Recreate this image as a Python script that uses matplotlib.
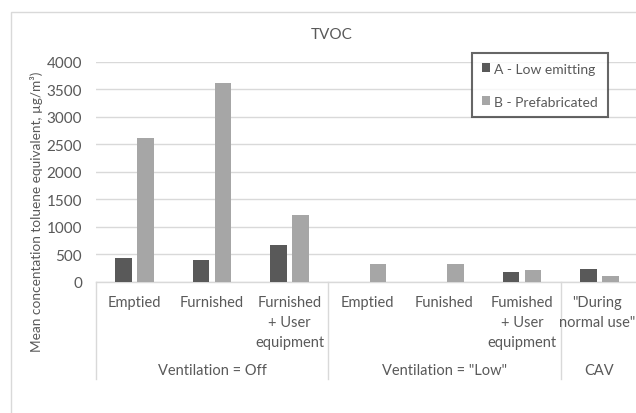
import matplotlib
matplotlib.use("Agg")
import matplotlib.pyplot as plt
import matplotlib.patches as mpatches
import numpy as np

plt.rcParams['font.family'] = ['Lato', 'DejaVu Sans']

categories = ["Emptied", "Furnished", "Furnished\n+ User\nequipment",
              "Emptied", "Funished", "Fumished\n+ User\nequipment",
              "\"During\nnormal use\""]
groups = ["Ventilation = Off", "Ventilation = \"Low\"", "CAV"]
group_sizes = [3, 3, 1]
series_names = ["A - Low emitting", "B - Prefabricated"]
series_a = [443, 395, 680, 0, 0, 182, 236]
series_b = [2615, 3608, 1220, 322, 334, 218, 104]
y_ticks = [0, 500, 1000, 1500, 2000, 2500, 3000, 3500, 4000]

W, H = 636, 414
fig = plt.figure(figsize=(W / 100, H / 100), dpi=100)
txt = '#595959'
grid = '#D9D9D9'

# chart border
fig.patches.append(mpatches.Rectangle((10.5 / W, -0.1), 2, 1 - 12.5 / H + 0.1,
                                      transform=fig.transFigure, fill=False,
                                      edgecolor=grid, linewidth=1.0))

left, right, top, bottom = 96, 638, 62.7, 283
ax = fig.add_axes([left / W, 1 - bottom / H, (right - left) / W, (bottom - top) / H])
x = np.arange(len(categories))
bw = 0.213
off = 0.142
ax.bar(x - off, series_a, bw, color='#595959', label=series_names[0], zorder=3)
ax.bar(x + off, series_b, bw, color='#A6A6A6', label=series_names[1], zorder=3)
ax.set_xlim(-0.5, len(categories) - 0.5)
ax.set_ylim(0, 4000)
ax.set_yticks(y_ticks)
ax.set_yticklabels([str(v) for v in y_ticks], color=txt, fontsize=11)
ax.tick_params(axis='y', length=0, pad=10)
ax.set_xticks([])
ax.yaxis.grid(True, color=grid, linewidth=1.0, zorder=0)
for s in ['top', 'right', 'left']:
    ax.spines[s].set_visible(False)
ax.spines['bottom'].set_color(grid)
ax.spines['bottom'].set_linewidth(1.0)
ax.set_facecolor('none')

ah = bottom - top
tr = ax.get_xaxis_transform()
for i, c in enumerate(categories):
    xi = i - 0.03 if i == len(categories) - 1 else i
    ax.text(xi, -13 / ah, c, transform=tr, ha='center', va='top', color=txt,
            fontsize=10.5, linespacing=1.55, clip_on=False)
start = 0
for g, n in zip(groups, group_sizes):
    ax.plot([start - 0.5, start - 0.5], [0, -97 / ah], transform=tr, color=grid,
            linewidth=1.0, clip_on=False)
    ax.text(start + (n - 1) / 2, -87.7 / ah, g, transform=tr, ha='center', va='center',
            color=txt, fontsize=10.5, clip_on=False)
    start += n

fig.text(332 / W, 1 - 35 / H, "TVOC", ha='center', va='center', color=txt, fontsize=11)
fig.text(37 / W, 1 - 212 / H, "Mean concentation toluene equivalent, µg/m³)", rotation=90,
         ha='center', va='center', color=txt, fontsize=9.8)

leg = ax.legend(loc='upper left', bbox_to_anchor=(472 / W, 1 - 54 / H),
                bbox_transform=fig.transFigure, borderaxespad=0, fontsize=10,
                handlelength=0.6, handleheight=0.6, handletextpad=0.3,
                labelspacing=1.5, borderpad=0.7, fancybox=False, frameon=True)
leg.get_frame().set_edgecolor('#404040')
leg.get_frame().set_linewidth(1.5)
for t in leg.get_texts():
    t.set_color(txt)

fig.savefig('out.png', dpi=100)
